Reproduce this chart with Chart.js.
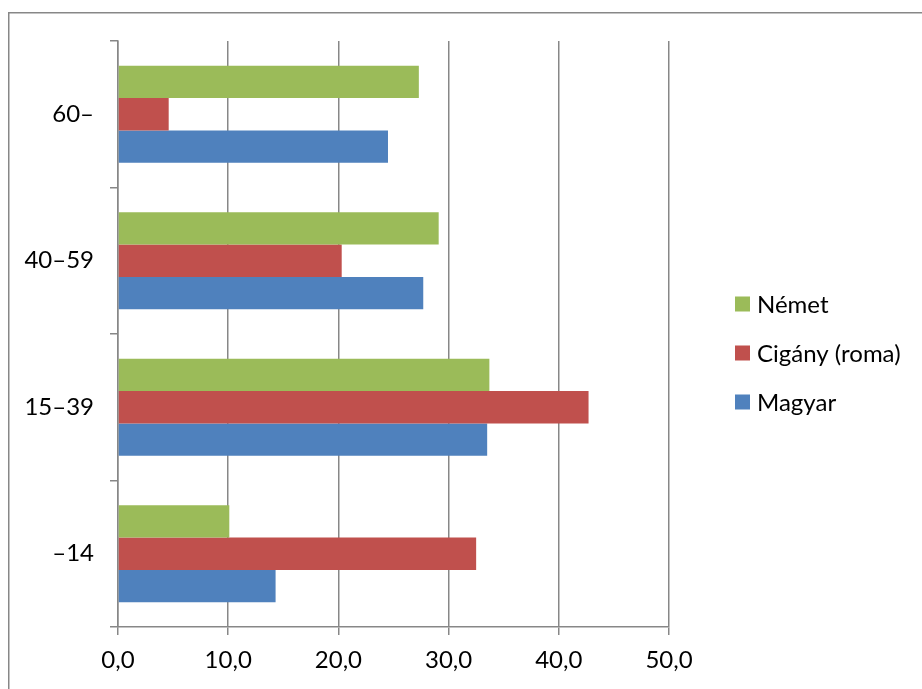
<!DOCTYPE html>
<html>
<head>
<meta charset="utf-8">
<title>Korcsoportok nemzetiség szerint</title>
<script src="https://cdn.jsdelivr.net/npm/chart.js@4/dist/chart.umd.min.js"></script>
<style>
  html, body { margin: 0; padding: 0; background: #ffffff; }
  #wrap { width: 922px; height: 689px; }
</style>
</head>
<body>
<div id="wrap"><canvas id="c" width="922" height="689"></canvas></div>
<script>
// Age groups, listed top to bottom
const ageGroups = ['60–', '40–59', '15–39', '–14'];

// Share (%) of each age group by nationality
const nemet  = [27.3, 29.1, 33.7, 10.1];
const cigany = [4.6, 20.3, 42.7, 32.5];
const magyar = [24.5, 27.7, 33.5, 14.3];

const seriesNames = ['Német', 'Cigány (roma)', 'Magyar'];
const xTicks = [0, 10, 20, 30, 40, 50];

const GREEN = '#9BBB59';
const RED = '#C0504D';
const BLUE = '#4F81BD';
const AXIS_GRAY = '#878787';
const FONT = 'Lato, "Open Sans", sans-serif';

// Thin frame around the chart object
const framePlugin = {
  id: 'frame',
  beforeDraw(chart) {
    const ctx = chart.ctx;
    ctx.save();
    ctx.fillStyle = '#ffffff';
    ctx.fillRect(0, 0, chart.width, chart.height);
    ctx.strokeStyle = AXIS_GRAY;
    ctx.lineWidth = 1.5;
    ctx.strokeRect(8.75, 12.75, chart.width + 20, chart.height + 20);
    ctx.restore();
  }
};

// Legend on the right, square swatches
const sideLegend = {
  id: 'sideLegend',
  afterDraw(chart) {
    const ctx = chart.ctx;
    const x0 = 735, yStart = 304, step = 49, box = 15;
    ctx.save();
    ctx.font = '24px ' + FONT;
    ctx.textBaseline = 'middle';
    ctx.textAlign = 'left';
    chart.data.datasets.forEach((ds, i) => {
      const y = yStart + i * step;
      ctx.fillStyle = ds.backgroundColor;
      ctx.fillRect(x0, y - box / 2, box, box);
      ctx.fillStyle = '#000000';
      ctx.fillText(ds.label, x0 + 22, y + 1);
    });
    ctx.restore();
  }
};

new Chart(document.getElementById('c'), {
  type: 'bar',
  data: {
    labels: ageGroups,
    datasets: [
      { label: seriesNames[0], data: nemet,  backgroundColor: GREEN },
      { label: seriesNames[1], data: cigany, backgroundColor: RED },
      { label: seriesNames[2], data: magyar, backgroundColor: BLUE }
    ]
  },
  options: {
    indexAxis: 'y',
    responsive: false,
    animation: false,
    devicePixelRatio: 1,
    categoryPercentage: 0.662,
    barPercentage: 1.0,
    layout: { padding: { left: 0, top: 41, right: 253, bottom: 0 } },
    plugins: {
      legend: { display: false },
      tooltip: { enabled: false }
    },
    scales: {
      x: {
        min: 0,
        max: 50,
        afterBuildTicks(scale) {
          scale.ticks = xTicks.map(v => ({ value: v }));
        },
        afterFit(scale) { scale.height = 62; },
        grid: {
          color: AXIS_GRAY,
          lineWidth: 1.5,
          tickLength: 8,
          drawOnChartArea: true
        },
        border: { color: AXIS_GRAY, width: 1.5 },
        ticks: {
          color: '#000000',
          font: { family: FONT, size: 24 },
          padding: 11,
          maxRotation: 0,
          callback: v => v.toFixed(1).replace('.', ',')
        }
      },
      y: {
        afterFit(scale) { scale.width = 118; },
        grid: {
          color: AXIS_GRAY,
          lineWidth: 1.5,
          tickLength: 8,
          offset: true,
          drawOnChartArea: false
        },
        border: { color: AXIS_GRAY, width: 1.5 },
        ticks: {
          color: '#000000',
          font: { family: FONT, size: 24 },
          padding: 16
        }
      }
    }
  },
  plugins: [framePlugin, sideLegend]
});
</script>
</body>
</html>
